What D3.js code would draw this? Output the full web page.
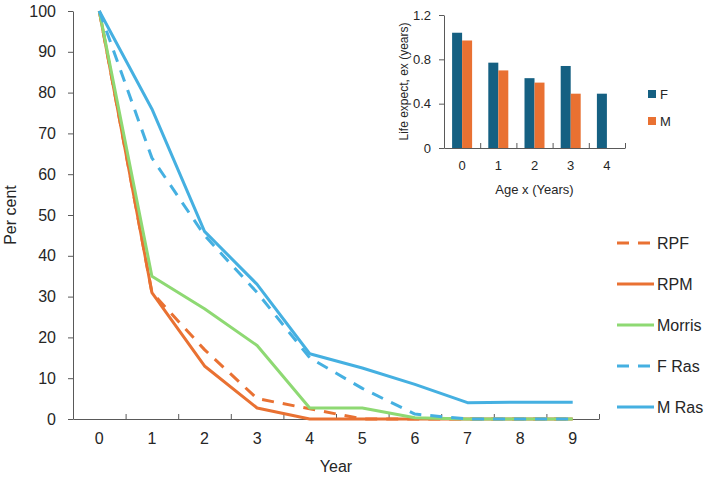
<!DOCTYPE html>
<html>
<head>
<meta charset="utf-8">
<script src="https://cdn.jsdelivr.net/npm/d3@7"></script>
<style>
  body { margin: 0; background: #fff; }
  svg { display: block; font-family: "Liberation Sans", Arial, sans-serif; }
  .axis path, .axis line { stroke: #595959; }
  .axis text { fill: #262626; }
</style>
</head>
<body>
<div id="chart"></div>
<script>
    // Main chart data: per cent surviving by year
    const years = [0, 1, 2, 3, 4, 5, 6, 7, 8, 9];
    const seriesNames = ["RPF", "RPM", "Morris", "F Ras", "M Ras"];
    const rpf = [100, 31, 17, 5, 2.5, 0, 0, 0, 0, 0];
    const rpm = [100, 31, 13, 2.7, 0, 0, 0, 0, 0, 0];
    const morris = [100, 35, 27, 18, 2.7, 2.7, 0.3, 0, 0, 0];
    const fRas = [100, 64, 45, 31, 15, 7.5, 1.2, 0, 0, 0];
    const mRas = [100, 76, 46, 33, 16, 12.5, 8.5, 4, 4.1, 4.1];
    const yTicks = [0, 10, 20, 30, 40, 50, 60, 70, 80, 90, 100];

    // Inset data: life expectancy by age
    const ages = [0, 1, 2, 3, 4];
    const insetKeys = ["F", "M"];
    const lifeF = [1.04, 0.77, 0.63, 0.74, 0.49];
    const lifeM = [0.97, 0.70, 0.59, 0.49, null];
    const insetTicks = [0, 0.4, 0.8, 1.2];

    const seriesValues = [rpf, rpm, morris, fRas, mRas];
    const colors = {
        "RPF": "#E97132", "RPM": "#E97132", "Morris": "#8ED973",
        "F Ras": "#45B0E1", "M Ras": "#45B0E1"
    };
    const dashed = { "RPF": true, "F Ras": true };

    const svg = d3.select("#chart").append("svg")
        .attr("width", 709)
        .attr("height", 480);

    // Main plot area
    const plot = { left: 73, right: 599, top: 11, bottom: 419 };

    const x = d3.scaleBand()
        .domain(years)
        .range([plot.left, plot.right]);

    const xEdge = d3.scaleLinear()
        .domain([0, years.length])
        .range([plot.left, plot.right]);

    const y = d3.scaleLinear()
        .domain([0, 100])
        .range([plot.bottom, plot.top]);

    // y axis
    svg.append("g")
        .attr("class", "axis")
        .attr("transform", "translate(" + plot.left + ",0)")
        .call(d3.axisLeft(y).tickValues(yTicks).tickSize(5).tickSizeOuter(0).tickPadding(12))
        .call(g => g.selectAll("text").style("font-size", "16px"));

    // x axis ticks at category boundaries, pointing up
    svg.append("g")
        .attr("class", "axis")
        .attr("transform", "translate(0," + plot.bottom + ")")
        .call(d3.axisBottom(xEdge).ticks(years.length).tickSize(-5).tickSizeOuter(0).tickFormat(""));

    // x axis labels
    svg.append("g")
        .attr("class", "axis")
        .attr("transform", "translate(0," + plot.bottom + ")")
        .call(d3.axisBottom(x).tickSize(0).tickPadding(14))
        .call(g => g.select(".domain").remove())
        .call(g => g.selectAll("text").style("font-size", "16px"));

    const line = d3.line()
        .x((d, i) => x(years[i]) + x.bandwidth() / 2)
        .y(d => y(d));

    seriesNames.forEach((name, k) => {
        svg.append("path")
            .datum(seriesValues[k])
            .attr("fill", "none")
            .attr("stroke", colors[name])
            .attr("stroke-width", 3)
            .attr("stroke-linejoin", "round")
            .attr("stroke-dasharray", dashed[name] ? "12,9" : null)
            .attr("d", line);
    });

    // axis titles
    svg.append("text")
        .attr("x", (plot.left + plot.right) / 2)
        .attr("y", 472)
        .attr("text-anchor", "middle")
        .style("font-size", "16px")
        .style("fill", "#262626")
        .text("Year");

    svg.append("text")
        .attr("transform", "rotate(-90)")
        .attr("x", -(plot.top + plot.bottom) / 2)
        .attr("y", 16)
        .attr("text-anchor", "middle")
        .style("font-size", "16px")
        .style("fill", "#262626")
        .text("Per cent");

    // legend
    const legend = svg.append("g")
        .attr("transform", "translate(617,243)");

    seriesNames.forEach((name, k) => {
        const row = legend.append("g").attr("transform", "translate(0," + (k * 41) + ")");
        row.append("line")
            .attr("x1", 0).attr("x2", 37)
            .attr("stroke", colors[name])
            .attr("stroke-width", 3)
            .attr("stroke-dasharray", dashed[name] ? "12,9" : null);
        row.append("text")
            .attr("x", 40)
            .attr("dy", "0.35em")
            .style("font-size", "16px")
            .style("fill", "#262626")
            .text(name);
    });

    // Inset bar chart
    const inset = { left: 444, right: 625, top: 15, bottom: 148 };

    const x0 = d3.scaleBand()
        .domain(ages)
        .range([inset.left, inset.right]);

    const x0Edge = d3.scaleLinear()
        .domain([0, ages.length])
        .range([inset.left, inset.right]);

    const groupWidth = 20;
    const x1 = d3.scaleBand()
        .domain(insetKeys)
        .range([0, groupWidth]);

    const yi = d3.scaleLinear()
        .domain([0, 1.2])
        .range([inset.bottom, inset.top]);

    const insetColors = { "F": "#156082", "M": "#E97132" };
    const insetValues = { "F": lifeF, "M": lifeM };

    svg.append("g")
        .attr("class", "axis")
        .attr("transform", "translate(" + inset.left + ",0)")
        .call(d3.axisLeft(yi).tickValues(insetTicks).tickSize(5).tickSizeOuter(0).tickPadding(8)
            .tickFormat(d => d === 0 ? "0" : d.toFixed(1)))
        .call(g => g.selectAll("text").style("font-size", "13px"));

    svg.append("g")
        .attr("class", "axis")
        .attr("transform", "translate(0," + inset.bottom + ")")
        .call(d3.axisBottom(x0Edge).ticks(ages.length).tickSize(-5).tickSizeOuter(0).tickFormat(""));

    svg.append("g")
        .attr("class", "axis")
        .attr("transform", "translate(0," + inset.bottom + ")")
        .call(d3.axisBottom(x0).tickSize(0).tickPadding(13))
        .call(g => g.select(".domain").remove())
        .call(g => g.selectAll("text").style("font-size", "13px"));

    insetKeys.forEach(key => {
        svg.append("g")
            .selectAll("rect")
            .data(ages.filter((a, i) => insetValues[key][i] != null))
            .join("rect")
            .attr("x", a => x0(a) + (x0.bandwidth() - groupWidth) / 2 + x1(key))
            .attr("y", a => yi(insetValues[key][a]))
            .attr("width", x1.bandwidth())
            .attr("height", a => inset.bottom - yi(insetValues[key][a]))
            .attr("fill", insetColors[key]);
    });

    svg.append("text")
        .attr("x", (inset.left + inset.right) / 2)
        .attr("y", 194)
        .attr("text-anchor", "middle")
        .style("font-size", "13px")
        .style("fill", "#262626")
        .text("Age x (Years)");

    svg.append("text")
        .attr("transform", "rotate(-90)")
        .attr("x", -(inset.top + inset.bottom) / 2)
        .attr("y", 408)
        .attr("text-anchor", "middle")
        .style("font-size", "12px")
        .style("fill", "#262626")
        .text("Life expect, ex (years)");

    const insetLegend = svg.append("g")
        .attr("transform", "translate(648,94)");

    insetKeys.forEach((key, k) => {
        const row = insetLegend.append("g").attr("transform", "translate(0," + (k * 27) + ")");
        row.append("rect")
            .attr("x", 0).attr("y", -4)
            .attr("width", 8).attr("height", 8)
            .attr("fill", insetColors[key]);
        row.append("text")
            .attr("x", 12)
            .attr("dy", "0.35em")
            .style("font-size", "13px")
            .style("fill", "#262626")
            .text(key);
    });
</script>
</body>
</html>
